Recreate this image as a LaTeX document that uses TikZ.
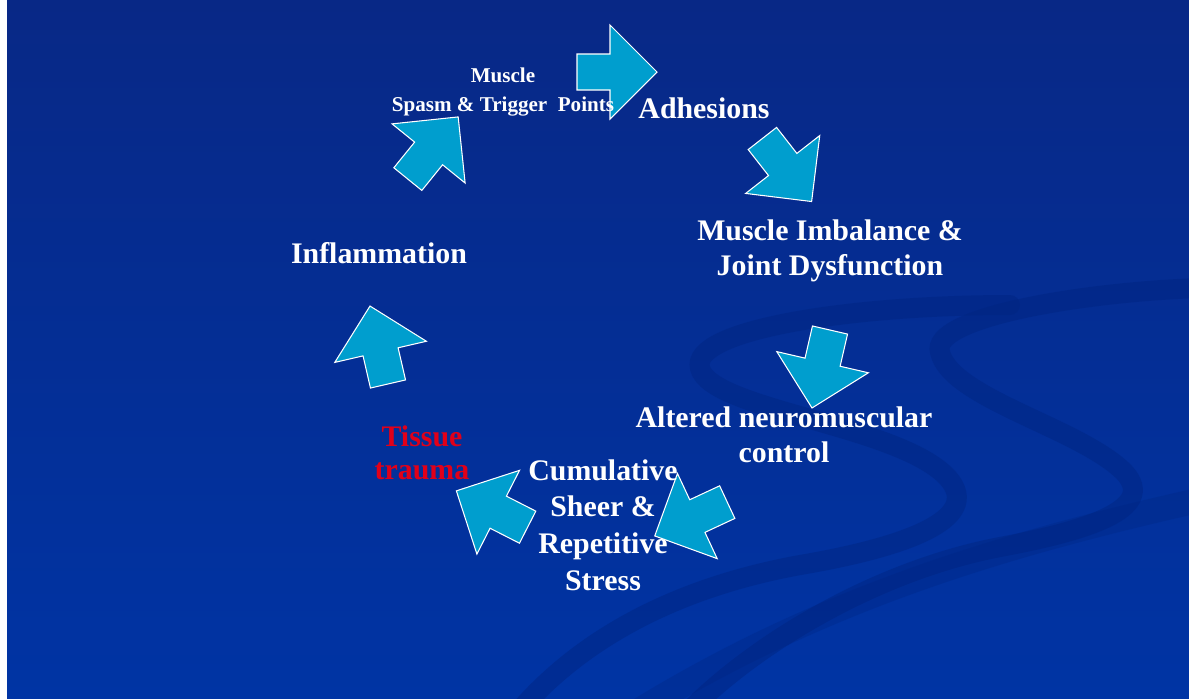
\documentclass[tikz,border=0pt]{standalone}
\usepackage{fontspec}
\setmainfont{Liberation Serif}
\usetikzlibrary{positioning}

\definecolor{slidetop}{RGB}{8,40,134}
\definecolor{slidebottom}{RGB}{0,52,164}
\definecolor{swoosh}{RGB}{0,36,128}
\definecolor{arrowcyan}{RGB}{0,158,206}
\definecolor{traumared}{RGB}{225,0,25}

\begin{document}
\begin{tikzpicture}[x=0.02cm, y=-0.02cm,
  every node/.style={font=\bfseries\fontsize{17}{20}\selectfont, align=center, text=white, inner sep=0pt},
  cyclearrow/.style={draw=white, line width=0.6pt, fill=arrowcyan, line join=miter},
  swooshline/.style={draw=swoosh, line width=0.4cm, opacity=0.45, line cap=round}]
\useasboundingbox (0,0) rectangle (1189,698);
\fill[white] (0,0) rectangle (1189,698);
\shade[top color=slidetop, bottom color=slidebottom] (7,0) rectangle (1189,698);

% background swooshes
\begin{scope}
\clip (7,0) rectangle (1189,698);
\draw[swooshline] (1010,305) .. controls (850,305) and (690,330) .. (700,368) .. controls (710,410) and (900,425) .. (948,478) .. controls (985,520) and (900,548) .. (800,565) .. controls (690,585) and (590,630) .. (520,710);
\draw[swooshline] (1200,288) .. controls (1080,292) and (930,318) .. (940,352) .. controls (950,398) and (1080,428) .. (1124,472) .. controls (1160,510) and (1080,532) .. (1000,547) .. controls (880,570) and (760,640) .. (690,710);
\draw[swooshline, line width=0.5cm, opacity=0.3] (1200,500) .. controls (1000,545) and (820,600) .. (640,710);
\end{scope}

% cycle arrows
\foreach \cx/\cy/\ang in {617/72/0, 787/170/-52, 821/369/-103, 691/519/-155, 492/509/153, 379/345/103, 433/148/51}
  \draw[cyclearrow, shift={(\cx,\cy)}, rotate=\ang] (-40,-18) -- (-7,-18) -- (-7,-47) -- (40,0) -- (-7,47) -- (-7,18) -- (-40,18) -- cycle;

% labels
\node[font=\bfseries\fontsize{12}{16}\selectfont] (spasm) at (503,92) {Muscle\\Spasm \& Trigger\ \ Points};
\node (adhesions) at (704,108) {Adhesions};
\node (imbalance) at (830,251) {Muscle Imbalance \&\\Joint Dysfunction};
\node (altered) at (784,435) {Altered neuromuscular\\control};
\node[font=\bfseries\fontsize{17}{20.8}\selectfont] (cumulative) at (603,525) {Cumulative\\Sheer \&\\Repetitive\\Stress};
\node[text=traumared, font=\bfseries\fontsize{17}{18.7}\selectfont] (trauma) at (422,453) {Tissue\\trauma};
\node (inflammation) at (379,253) {Inflammation};
\end{tikzpicture}
\end{document}
